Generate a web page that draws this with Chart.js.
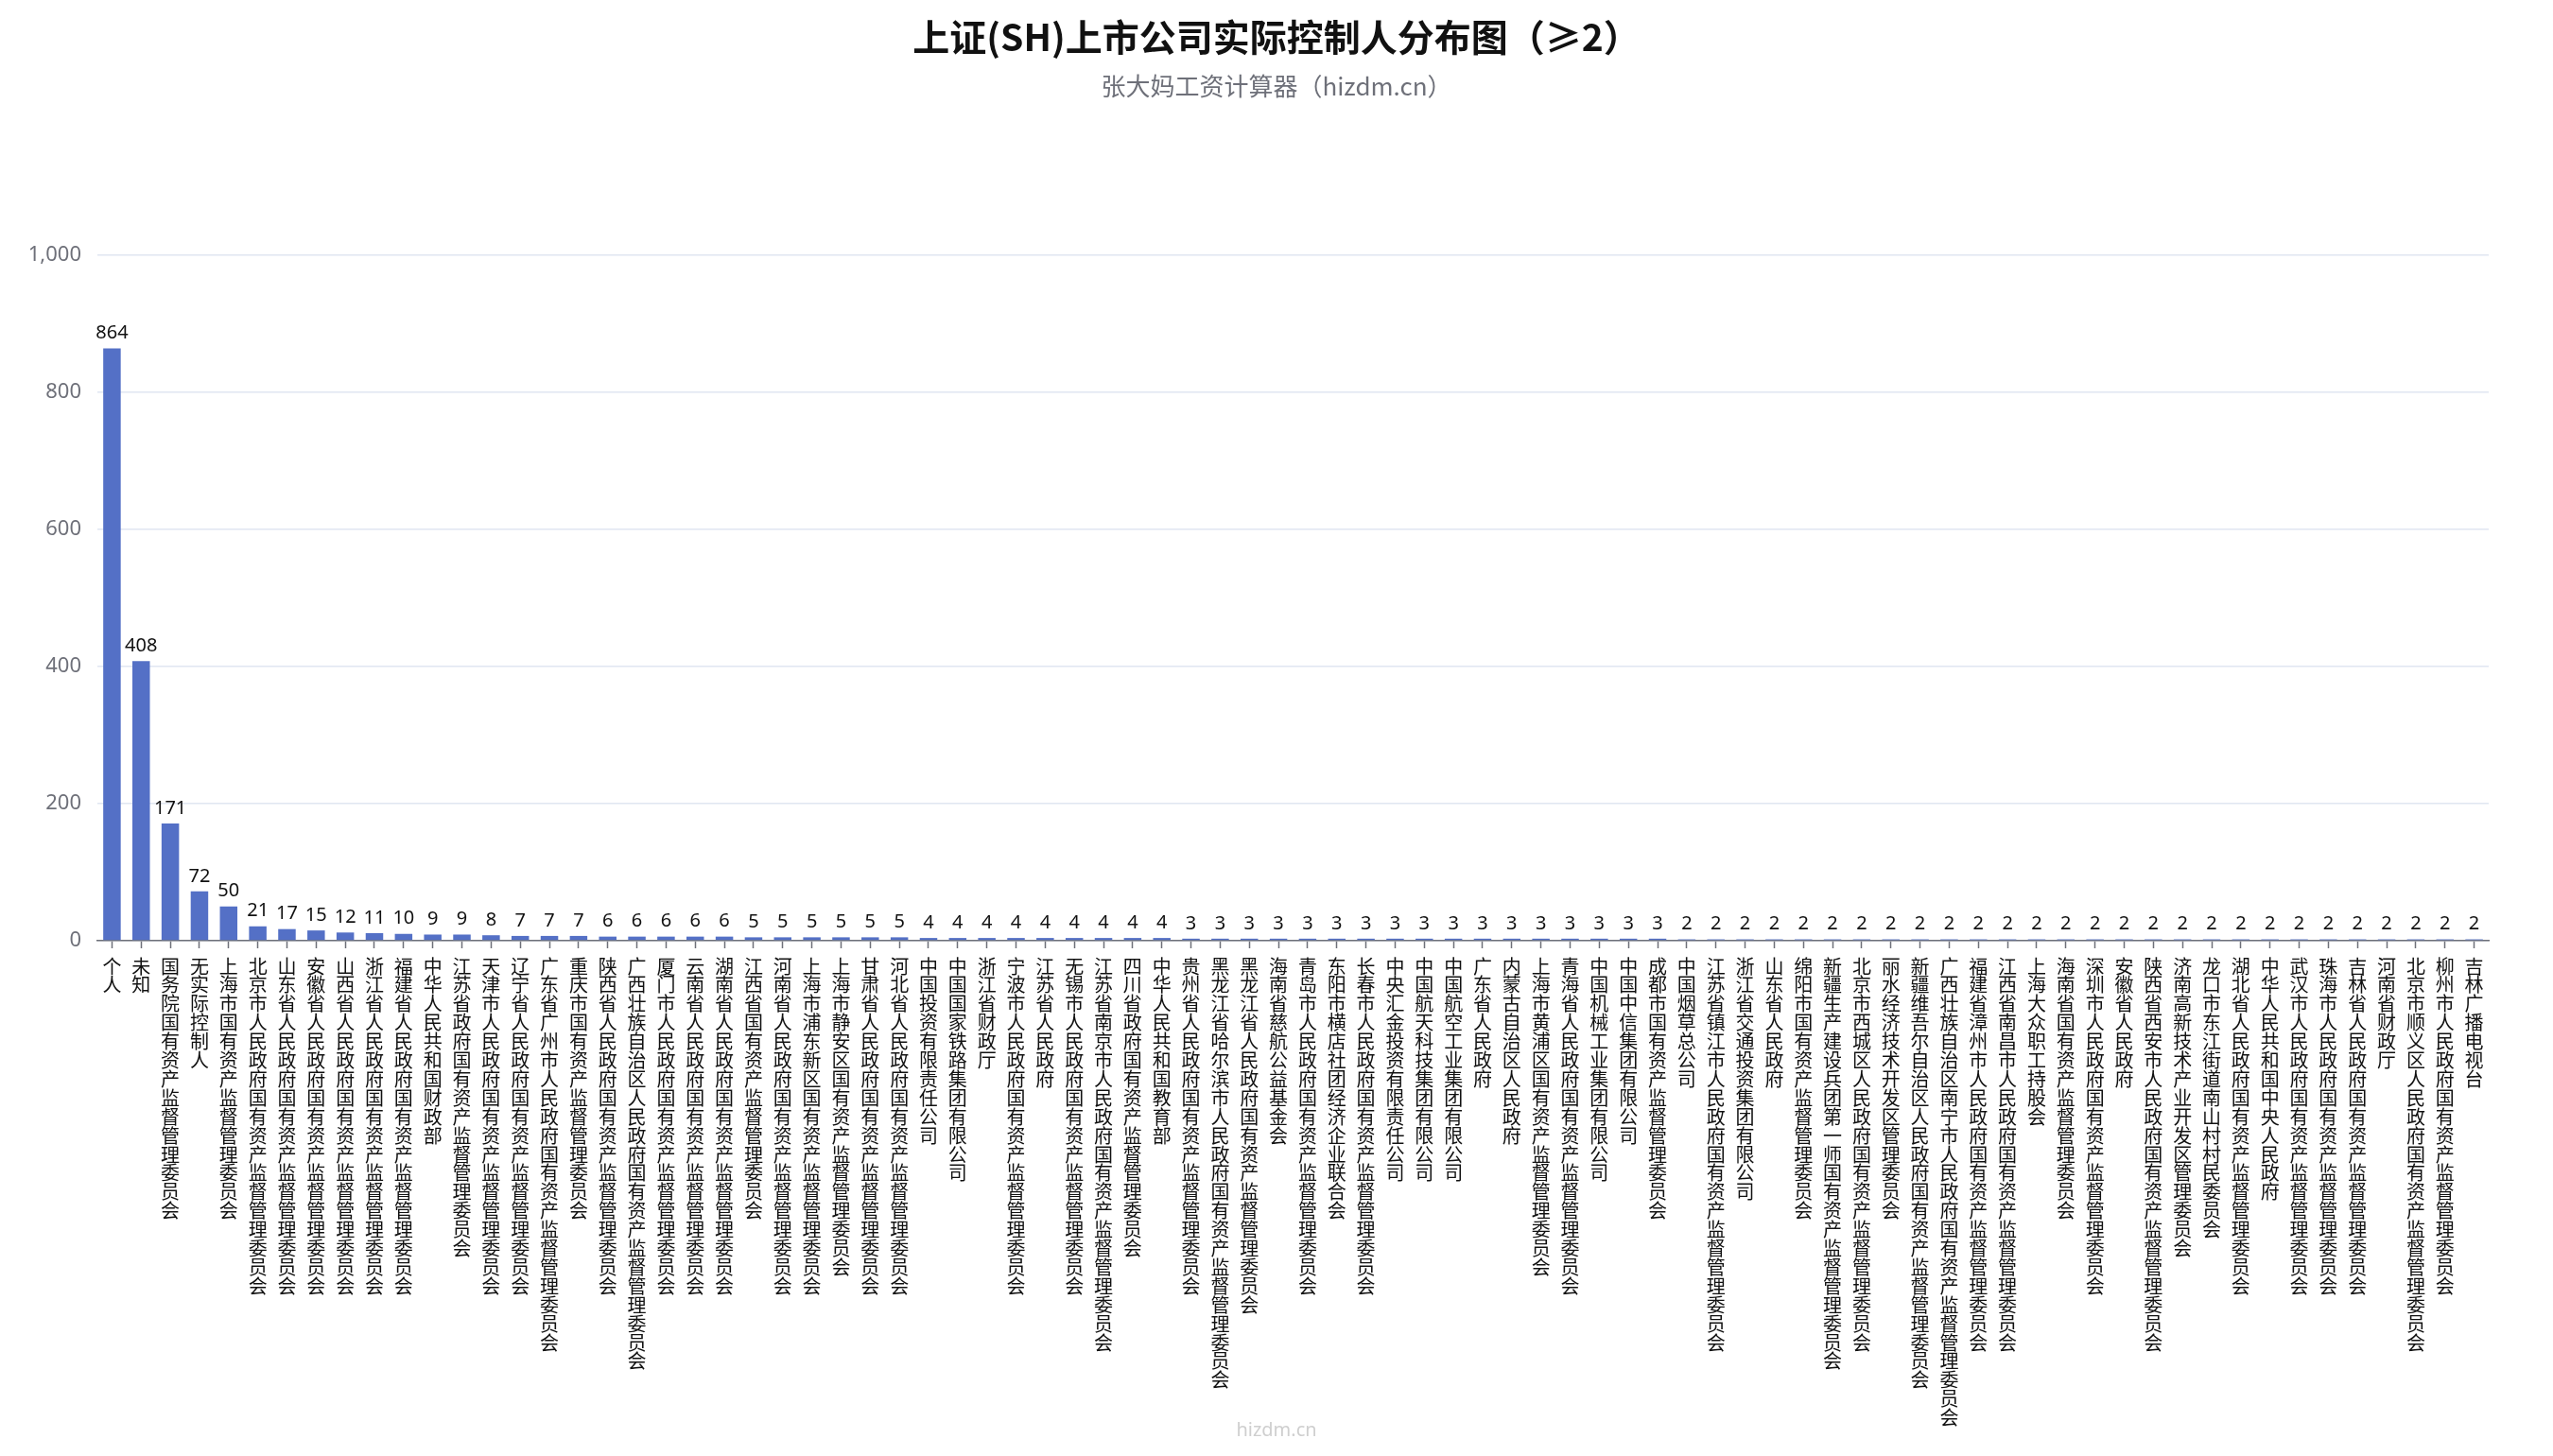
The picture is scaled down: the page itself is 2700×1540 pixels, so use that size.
<!DOCTYPE html>
<html>
<head>
<meta charset="utf-8">
<script src="https://cdn.jsdelivr.net/npm/chart.js@4.4.1/dist/chart.umd.min.js"></script>
<style>
  body { margin: 0; background: #fff; }
  #wrap { position: relative; width: 2700px; height: 1540px; }
  #mark {
    position: absolute; left: 0; right: 0; top: 1498px;
    text-align: center; color: #cfcfcf; font: 20px "Noto Sans", sans-serif;
  }
</style>
</head>
<body>
<div id="wrap">
  <canvas id="chart" width="2700" height="1540"></canvas>
  <div id="mark">hizdm.cn</div>
</div>
<script>
const controllers = [
  '个人', '未知', '国务院国有资产监督管理委员会', '无实际控制人', '上海市国有资产监督管理委员会',
  '北京市人民政府国有资产监督管理委员会', '山东省人民政府国有资产监督管理委员会', '安徽省人民政府国有资产监督管理委员会',
  '山西省人民政府国有资产监督管理委员会', '浙江省人民政府国有资产监督管理委员会', '福建省人民政府国有资产监督管理委员会',
  '中华人民共和国财政部', '江苏省政府国有资产监督管理委员会', '天津市人民政府国有资产监督管理委员会',
  '辽宁省人民政府国有资产监督管理委员会', '广东省广州市人民政府国有资产监督管理委员会', '重庆市国有资产监督管理委员会',
  '陕西省人民政府国有资产监督管理委员会', '广西壮族自治区人民政府国有资产监督管理委员会', '厦门市人民政府国有资产监督管理委员会',
  '云南省人民政府国有资产监督管理委员会', '湖南省人民政府国有资产监督管理委员会', '江西省国有资产监督管理委员会',
  '河南省人民政府国有资产监督管理委员会', '上海市浦东新区国有资产监督管理委员会', '上海市静安区国有资产监督管理委员会',
  '甘肃省人民政府国有资产监督管理委员会', '河北省人民政府国有资产监督管理委员会', '中国投资有限责任公司',
  '中国国家铁路集团有限公司', '浙江省财政厅', '宁波市人民政府国有资产监督管理委员会', '江苏省人民政府',
  '无锡市人民政府国有资产监督管理委员会', '江苏省南京市人民政府国有资产监督管理委员会', '四川省政府国有资产监督管理委员会',
  '中华人民共和国教育部', '贵州省人民政府国有资产监督管理委员会', '黑龙江省哈尔滨市人民政府国有资产监督管理委员会',
  '黑龙江省人民政府国有资产监督管理委员会', '海南省慈航公益基金会', '青岛市人民政府国有资产监督管理委员会',
  '东阳市横店社团经济企业联合会', '长春市人民政府国有资产监督管理委员会', '中央汇金投资有限责任公司',
  '中国航天科技集团有限公司', '中国航空工业集团有限公司', '广东省人民政府', '内蒙古自治区人民政府',
  '上海市黄浦区国有资产监督管理委员会', '青海省人民政府国有资产监督管理委员会', '中国机械工业集团有限公司',
  '中国中信集团有限公司', '成都市国有资产监督管理委员会', '中国烟草总公司', '江苏省镇江市人民政府国有资产监督管理委员会',
  '浙江省交通投资集团有限公司', '山东省人民政府', '绵阳市国有资产监督管理委员会', '新疆生产建设兵团第一师国有资产监督管理委员会',
  '北京市西城区人民政府国有资产监督管理委员会', '丽水经济技术开发区管理委员会', '新疆维吾尔自治区人民政府国有资产监督管理委员会',
  '广西壮族自治区南宁市人民政府国有资产监督管理委员会', '福建省漳州市人民政府国有资产监督管理委员会',
  '江西省南昌市人民政府国有资产监督管理委员会', '上海大众职工持股会', '海南省国有资产监督管理委员会',
  '深圳市人民政府国有资产监督管理委员会', '安徽省人民政府', '陕西省西安市人民政府国有资产监督管理委员会',
  '济南高新技术产业开发区管理委员会', '龙口市东江街道南山村村民委员会', '湖北省人民政府国有资产监督管理委员会',
  '中华人民共和国中央人民政府', '武汉市人民政府国有资产监督管理委员会', '珠海市人民政府国有资产监督管理委员会',
  '吉林省人民政府国有资产监督管理委员会', '河南省财政厅', '北京市顺义区人民政府国有资产监督管理委员会',
  '柳州市人民政府国有资产监督管理委员会', '吉林广播电视台'
];

const companyCounts = [
  864, 408, 171, 72, 50, 21, 17, 15, 12, 11, 10, 9, 9, 8, 7, 7, 7,
  6, 6, 6, 6, 6, 5, 5, 5, 5, 5, 5,
  4, 4, 4, 4, 4, 4, 4, 4, 4,
  3, 3, 3, 3, 3, 3, 3, 3, 3, 3, 3, 3, 3, 3, 3, 3, 3,
  2, 2, 2, 2, 2, 2, 2, 2, 2, 2, 2, 2, 2, 2, 2, 2, 2, 2, 2, 2, 2, 2, 2, 2, 2, 2, 2, 2
];

const yTicks = [0, 200, 400, 600, 800, 1000];

// numbers on top of each bar
const valueLabels = {
  id: 'valueLabels',
  afterDatasetsDraw(chart) {
    const ctx = chart.ctx;
    const meta = chart.getDatasetMeta(0);
    ctx.save();
    ctx.font = '20px "Noto Sans", sans-serif';
    ctx.fillStyle = '#111';
    ctx.textAlign = 'center';
    ctx.textBaseline = 'bottom';
    meta.data.forEach((bar, i) => {
      ctx.fillText(String(companyCounts[i]), bar.x, bar.y - 6);
    });
    ctx.restore();
  }
};

new Chart(document.getElementById('chart'), {
  type: 'bar',
  data: {
    labels: controllers.map(name => Array.from(name)),
    datasets: [{
      data: companyCounts,
      backgroundColor: '#5470c6',
      categoryPercentage: 1,
      barPercentage: 0.6
    }]
  },
  options: {
    responsive: false,
    devicePixelRatio: 1,
    animation: false,
    locale: 'en-US',
    layout: { padding: 0 },
    plugins: {
      legend: { display: false },
      tooltip: { enabled: false },
      title: {
        display: true,
        text: '上证(SH)上市公司实际控制人分布图（≥2）',
        color: '#111',
        font: { family: '"Noto Sans CJK SC", sans-serif', size: 39, weight: 'bold', lineHeight: 1.2 },
        padding: { top: 16, bottom: 10 }
      },
      subtitle: {
        display: true,
        text: '张大妈工资计算器（hizdm.cn）',
        color: '#6E7079',
        font: { family: '"Noto Sans CJK SC", sans-serif', size: 26, lineHeight: 1.2 },
        padding: { top: 3, bottom: 163 }
      }
    },
    scales: {
      x: {
        afterFit(scale) {
          scale.height = 545;
          // right margin of the plot, without shifting the centred title
          scale.paddingRight = 68;
        },
        grid: {
          display: true,
          drawOnChartArea: false,
          drawTicks: true,
          tickLength: 8,
          tickWidth: 1.5,
          tickColor: '#6E7079',
          offset: false
        },
        border: { display: true, color: '#6E7079', width: 1.5 },
        ticks: {
          autoSkip: false,
          maxRotation: 0,
          minRotation: 0,
          padding: 9,
          color: '#111',
          font: { family: '"Noto Sans CJK SC", sans-serif', size: 20, lineHeight: 0.995 }
        }
      },
      y: {
        min: 0,
        max: 1000,
        afterBuildTicks(scale) {
          scale.ticks = yTicks.map(v => ({ value: v }));
        },
        afterFit(scale) {
          scale.width = 103;
        },
        grid: { color: '#E0E6F1', lineWidth: 1.5, drawTicks: false },
        border: { display: false },
        ticks: {
          padding: 17,
          color: '#6E7079',
          font: { family: '"Noto Sans", sans-serif', size: 22 }
        }
      }
    }
  },
  plugins: [valueLabels]
});
</script>
</body>
</html>
